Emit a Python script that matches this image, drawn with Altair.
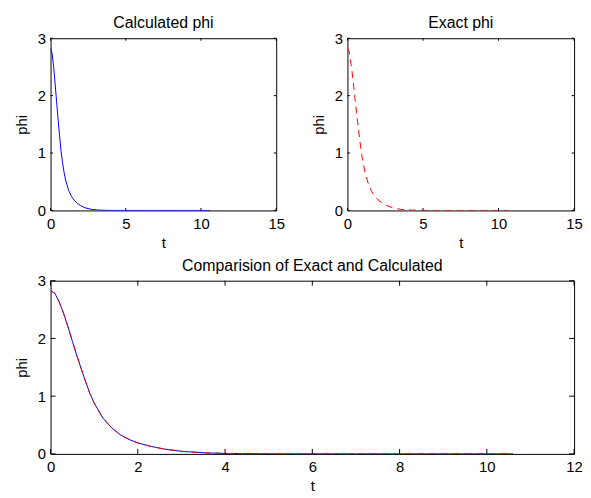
import altair as alt
import pandas as pd

# ---- data ----
t_exact = [0, 0.1, 0.2, 0.3, 0.4, 0.5, 0.6, 0.7, 0.8, 0.9, 1.0, 1.2, 1.4, 1.6, 1.8,
           2.0, 2.3, 2.6, 3.0, 3.5, 4.0, 5.0, 6.0, 7.0, 8.0, 9.0, 10.0, 10.6]
phi_exact = [2.83, 2.78, 2.63, 2.43, 2.20, 1.95, 1.71, 1.48, 1.26, 1.05, 0.88, 0.62, 0.45, 0.33, 0.25,
             0.19, 0.13, 0.085, 0.045, 0.02, 0.008, 0.001, 0, 0, 0, 0, 0, 0]

t_calc = [0, 0.1, 0.2, 0.3, 0.4, 0.5, 0.6, 0.7, 0.8, 0.9, 1.0, 1.2, 1.4, 1.6, 1.8,
          2.0, 2.3, 2.7, 3.1, 3.8, 5.0, 6.0, 7.0, 8.0, 9.0, 10.0, 10.6]
phi_calc = [2.83, 2.74, 2.52, 2.22, 1.90, 1.59, 1.30, 1.03, 0.83, 0.66, 0.53, 0.35, 0.24, 0.17, 0.12,
            0.085, 0.045, 0.02, 0.008, 0.001, 0, 0, 0, 0, 0, 0, 0]

# comparison panel: both curves coincide
t_cmp = t_exact
phi_cmp_calc = phi_exact
phi_cmp_exact = phi_exact

top_x_ticks = [0, 5, 10, 15]
bottom_x_ticks = [0, 2, 4, 6, 8, 10, 12]
y_ticks = [0, 1, 2, 3]

FONT = "Liberation Sans"
FS = 15
TFS = 16
BLUE = "#0000ff"
RED = "#ff0000"


def panel(series, xmax, xticks, w, h, title, ticklen):
    xs = alt.Scale(domain=[0, xmax], nice=False, zero=False)
    ys = alt.Scale(domain=[0, 3], nice=False, zero=False)
    xax = alt.Axis(values=xticks, title="t", format="d")
    yax = alt.Axis(values=y_ticks, title="phi", format="d")
    layers = []
    for ts, vs, color, dash in series:
        df = pd.DataFrame({"t": ts, "phi": vs})
        mk = dict(color=color, strokeWidth=1, clip=True)
        if dash:
            mk["strokeDash"] = [7, 5]
        layers.append(alt.Chart(df).mark_line(**mk).encode(
            x=alt.X("t:Q", scale=xs, axis=xax),
            y=alt.Y("phi:Q", scale=ys, axis=yax)))

    xt = pd.DataFrame({"t": xticks})
    yt = pd.DataFrame({"phi": y_ticks})
    tk = dict(color="black", strokeWidth=1)
    layers.append(alt.Chart(xt).mark_rule(**tk).encode(
        x=alt.X("t:Q", scale=xs, axis=xax), y=alt.value(h), y2=alt.value(h - ticklen)))
    layers.append(alt.Chart(xt).mark_rule(**tk).encode(
        x=alt.X("t:Q", scale=xs, axis=xax), y=alt.value(0), y2=alt.value(ticklen)))
    layers.append(alt.Chart(yt).mark_rule(**tk).encode(
        y=alt.Y("phi:Q", scale=ys, axis=yax), x=alt.value(0), x2=alt.value(ticklen)))
    layers.append(alt.Chart(yt).mark_rule(**tk).encode(
        y=alt.Y("phi:Q", scale=ys, axis=yax), x=alt.value(w - ticklen), x2=alt.value(w)))

    return alt.layer(*layers).properties(
        width=w, height=h,
        title=alt.TitleParams(title, fontSize=TFS, fontWeight="normal", font=FONT,
                              color="black", offset=0),
    )


tl = panel([(t_calc, phi_calc, BLUE, False)], 15, top_x_ticks, 228, 174, "Calculated phi", 2.5)
tr = panel([(t_exact, phi_exact, RED, True)], 15, top_x_ticks, 229, 174, "Exact phi", 2.5)
bt = panel([(t_cmp, phi_cmp_calc, BLUE, False), (t_cmp, phi_cmp_exact, RED, True)],
           12, bottom_x_ticks, 529, 175, "Comparision of Exact and Calculated", 5)

chart = alt.vconcat(
    alt.hconcat(tl, tr, spacing=72, bounds="flush"),
    bt, spacing=6,
).properties(
    padding={"left": 6, "top": 4, "right": 0, "bottom": 0},
    background="white",
).configure_view(
    stroke="black", strokeWidth=1,
).configure_axis(
    domain=False, ticks=False, grid=False, labelFlush=False,
    labelFont=FONT, labelFontSize=FS, labelColor="black",
    titleFont=FONT, titleFontSize=FS, titleColor="black", titleFontWeight="normal",
).configure_axisX(
    labelPadding=6, titlePadding=4,
).configure_axisY(
    labelPadding=5, titlePadding=8,
)

chart.save("out.html", embed_options={"renderer": "svg", "actions": False})
